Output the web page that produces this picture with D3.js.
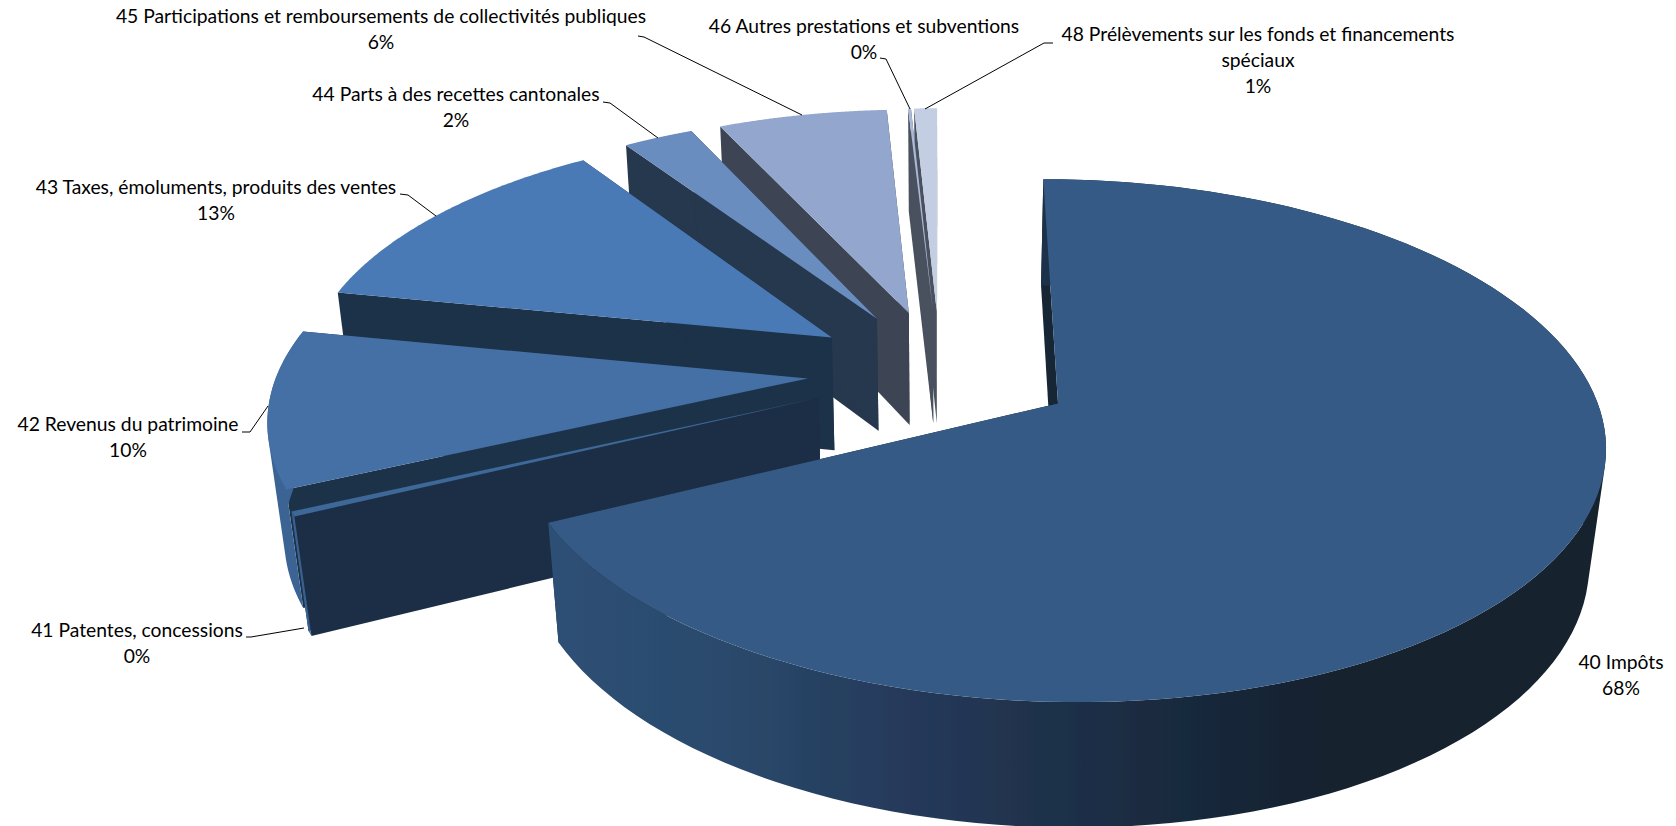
<!DOCTYPE html>
<html><head><meta charset="utf-8">
<script src="https://cdn.jsdelivr.net/npm/d3@7"></script>
<style>html,body{margin:0;background:#fff;overflow:hidden}text{font-family:Lato,"Open Sans",sans-serif;font-size:19.3px;fill:#000}</style>
</head><body><svg id="c" width="1676" height="826"></svg>
<script>
const categories=["40 Impôts","41 Patentes, concessions","42 Revenus du patrimoine","43 Taxes, émoluments, produits des ventes","44 Parts à des recettes cantonales","45 Participations et remboursements de collectivités publiques","46 Autres prestations et subventions","48 Prélèvements sur les fonds et financements spéciaux"];
const shares=[67.8,0.3,10.0,12.5,2.49,6.0,0.1,0.81];
const explodes=[0.258,0.25,0.25,0.25,0.25,0.25,0.25,0.25];
const explodeTilt=[0.008,0,0,0,0,0,0,0];
const topColors=["#355a85","#3c6798","#446fa5","#4a7ab5","#6a8dc0","#92a6ce","#aab9d8","#c3cee2"];
const sideColors=["#172536","#1c2e45","#1f3349","#1e3049","#28374e","#3d4555","#4a515e","#4a515e"];
const arcColors=["url(#wall40)","#3a6494","#3a6494",null,null,null,null,null];

// camera
const Ox=940,Oy=371,S=530,Sk=247,Smh=117,pa=0.14,pb=0.025;
const xs=d3.scaleLinear().domain([0,1]).range([0,S]);
const ys=d3.scaleLinear().domain([0,1]).range([0,Sk]);
const zs=d3.scaleLinear().domain([0,1]).range([0,Smh]);
const project=(u,v,h)=>{const w=1+pa*v+pb*h;return [Ox+xs(u)/w,Oy+(zs(h)-ys(v))/w];};
const line=d3.line();
const svg=d3.select("#c");
const defs=svg.append("defs");
defs.append("filter").attr("id","soft").append("feGaussianBlur").attr("stdDeviation",0.5);
const wallStops=[[545,"#2e5075"],[725,"#2a4a6c"],[912,"#25395a"],[1100,"#1c2e45"],[1325,"#14212f"],[1607,"#14212f"]];
const grad=defs.append("linearGradient").attr("id","wall40").attr("gradientUnits","userSpaceOnUse")
  .attr("x1",wallStops[0][0]).attr("x2",wallStops[wallStops.length-1][0]).attr("y1",0).attr("y2",0);
const stopPos=d3.scaleLinear().domain([wallStops[0][0],wallStops[wallStops.length-1][0]]).range([0,1]);
wallStops.forEach(s=>grad.append("stop").attr("offset",stopPos(s[0])).attr("stop-color",s[1]));
const g=svg.append("g").attr("filter","url(#soft)");

const arcs=d3.pie().sort(null).value(d=>d).startAngle(0).endAngle(2*Math.PI)(shares);
const geo=arcs.map((a,i)=>{
  const mid=(a.startAngle+a.endAngle)/2;
  const ox=explodes[i]*Math.sin(mid),oy=explodes[i]*Math.cos(mid)+explodeTilt[i];
  const at=(t,h)=>project(ox+Math.sin(t),oy+Math.cos(t),h);
  return {a,mid,at,apex:h=>project(ox,oy,h)};
});
const thetas=(a)=>d3.range(0,121).map(i=>a.startAngle+(a.endAngle-a.startAngle)*i/120);
const sameWinding=q=>d3.polygonArea(q)<0?q.slice().reverse():q;

d3.range(categories.length-1,-1,-1).forEach(i=>{
  const s=geo[i],ts=thetas(s.a);
  // radial walls
  [s.a.startAngle,s.a.endAngle].forEach(t=>{
    g.append("path").attr("d",line([s.apex(0),s.at(t,0),s.at(t,1),s.apex(1)])+"Z").attr("fill",sideColors[i]);
  });
  // outer wall (front-facing slices only), swept quads wound alike so one path has no seams or holes
  if(arcColors[i]){
    const d=d3.range(ts.length-1).map(k=>line(sameWinding([s.at(ts[k],0),s.at(ts[k+1],0),s.at(ts[k+1],1),s.at(ts[k],1)]))+"Z").join("");
    g.append("path").attr("d",d).attr("fill",arcColors[i]).attr("fill-rule","nonzero");
  }
  // top face
  g.append("path").attr("d",line([s.apex(0),...ts.map(t=>s.at(t,0))])+"Z").attr("fill",topColors[i]);
});

// labels
const labelLines=[["40 Impôts"],["41 Patentes, concessions"],["42 Revenus du patrimoine"],["43 Taxes, émoluments, produits des ventes"],["44 Parts à des recettes cantonales"],["45 Participations et remboursements de collectivités publiques"],["46 Autres prestations et subventions"],["48 Prélèvements sur les fonds et financements","spéciaux"]];
const labelX=[1621,137,128,216,456,381,864,1258];
const labelY=[664,632,426,189,96,18,28,36];
const leaderStart=[null,[[246,637],[251,637]],[[242,432],[250,432]],[[400,194],[408,195]],[[603,102],[610,103]],[[638,36],[644,37]],[[880,58],[886,59]],[[1053,43],[1044,43]]];
const leaderEnd=[null,[304,628],[268,406],[436,216],[658,138],[802,115],[910,109],[925,109]];
const lh=25.8;
categories.forEach((c,i)=>{
  const t=svg.append("text").attr("text-anchor","middle").attr("dominant-baseline","middle");
  const rows=[...labelLines[i],Math.round(shares[i])+"%"];
  rows.forEach((r,j)=>t.append("tspan").attr("x",labelX[i]).attr("y",labelY[i]+j*lh).text(r));
  if(leaderStart[i]) svg.append("path").attr("d",line([...leaderStart[i],leaderEnd[i]])).attr("fill","none").attr("stroke","#000").attr("stroke-width",1);
});
</script></body></html>
